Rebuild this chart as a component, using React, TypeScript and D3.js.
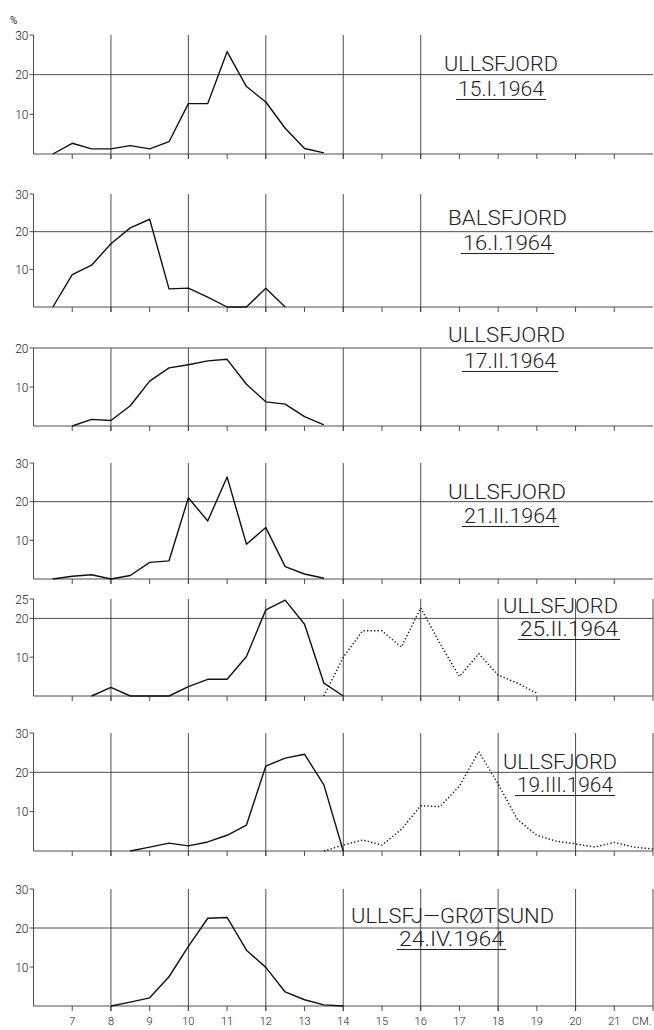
import React from "react";
import * as d3 from "d3";

// ---------- DATA ----------
const p1Len = [6.5, 7, 7.5, 8, 8.5, 9, 9.5, 10, 10.5, 11, 11.5, 12, 12.5, 13, 13.5];
const p1Pct = [0, 2.7, 1.3, 1.3, 2.1, 1.3, 3.1, 12.7, 12.7, 25.8, 17.0, 13.1, 6.5, 1.4, 0.3];

const p2Len = [6.5, 7, 7.5, 8, 8.5, 9, 9.5, 10, 10.5, 11, 11.5, 12, 12.5];
const p2Pct = [0, 8.6, 11.1, 16.8, 21.0, 23.3, 4.8, 5.0, 2.6, 0, 0, 5.0, 0];

const p3Len = [7, 7.5, 8, 8.5, 9, 9.5, 10, 10.5, 11, 11.5, 12, 12.5, 13, 13.5];
const p3Pct = [0, 1.7, 1.4, 5.2, 11.5, 14.9, 15.7, 16.7, 17.1, 10.7, 6.2, 5.6, 2.4, 0.3];

const p4Len = [6.5, 7, 7.5, 8, 8.5, 9, 9.5, 10, 10.5, 11, 11.5, 12, 12.5, 13, 13.5];
const p4Pct = [0, 0.7, 1.1, 0, 0.9, 4.3, 4.7, 21.0, 15.0, 26.4, 9.0, 13.3, 3.2, 1.3, 0.2];

const p5Len = [7.5, 8, 8.5, 9, 9.5, 10, 10.5, 11, 11.5, 12, 12.5, 13, 13.5, 14];
const p5Pct = [0, 2.2, 0, 0, 0, 2.4, 4.3, 4.3, 10.2, 22.2, 24.7, 18.5, 3.3, 0];
const p5bLen = [13.5, 14, 14.5, 15, 15.5, 16, 16.5, 17, 17.5, 18, 18.5, 19];
const p5bPct = [0, 10.0, 16.8, 16.8, 12.6, 22.7, 13.5, 5.0, 10.9, 5.4, 3.3, 0.7];

const p6Len = [8.5, 9, 9.5, 10, 10.5, 11, 11.5, 12, 12.5, 13, 13.5, 14];
const p6Pct = [0, 1.0, 2.0, 1.3, 2.3, 4.0, 6.6, 21.6, 23.6, 24.6, 16.8, 0];
const p6bLen = [13.5, 14, 14.5, 15, 15.5, 16, 16.5, 17, 17.5, 18, 18.5, 19, 19.5, 20, 20.5, 21, 21.5, 22];
const p6bPct = [0, 1.5, 2.8, 1.5, 5.5, 11.5, 11.3, 16.5, 25.3, 17.0, 8.0, 4.0, 2.5, 1.8, 1.0, 2.2, 1.0, 0.5];

const p7Len = [8, 8.5, 9, 9.5, 10, 10.5, 11, 11.5, 12, 12.5, 13, 13.5, 14];
const p7Pct = [0, 1.0, 2.1, 7.5, 15.3, 22.5, 22.7, 14.3, 9.9, 3.6, 1.6, 0.3, 0];

const panelMax = [30, 30, 20, 30, 25, 30, 30];
const panelYTicks = [[10, 20, 30], [10, 20, 30], [10, 20], [10, 20, 30], [10, 20, 25], [10, 20, 30], [10, 20, 30]];
const panelNames = ["ULLSFJORD", "BALSFJORD", "ULLSFJORD", "ULLSFJORD", "ULLSFJORD", "ULLSFJORD", "ULLSFJ\u2014GR\u00d8TSUND"];
const panelDates = ["15.I.1964", "16.I.1964", "17.II.1964", "21.II.1964", "25.II.1964", "19.III.1964", "24.IV.1964"];
const xTickLabels = [7, 8, 9, 10, 11, 12, 13, 14, 15, 16, 17, 18, 19, 20, 21];

const solidSeries = [
  [p1Len, p1Pct], [p2Len, p2Pct], [p3Len, p3Pct], [p4Len, p4Pct],
  [p5Len, p5Pct], [p6Len, p6Pct], [p7Len, p7Pct],
];
const dottedSeries: (number[][] | null)[] = [null, null, null, null, [p5bLen, p5bPct], [p6bLen, p6bPct], null];

// ---------- LAYOUT ----------
const W = 654, H = 1030;
const panelTopPx = [35, 194, 348, 463, 599, 733, 889];
const panelBasePx = [154, 307, 426, 579, 696, 851, 1006];
const wideGrid = [false, false, false, false, true, true, true];
const labelLayout = [
  { nx: 444, ny: 71, nw: 114, dx: 458, dy: 96, dw: 86 },
  { nx: 448, ny: 225, nw: 119, dx: 463, dy: 250, dw: 89 },
  { nx: 448, ny: 342, nw: 117, dx: 464, dy: 368, dw: 92 },
  { nx: 448, ny: 499, nw: 118, dx: 464, dy: 523, dw: 93 },
  { nx: 503, ny: 613, nw: 115, dx: 520, dy: 636, dw: 98 },
  { nx: 503, ny: 769, nw: 114, dx: 517, dy: 792, dw: 96 },
  { nx: 351, ny: 923, nw: 203, dx: 399, dy: 946, dw: 105 },
];

const x = d3.scaleLinear().domain([6, 22]).range([33.5, 653]);
const FONT = "Roboto, 'DejaVu Sans', sans-serif";
const GRID = "#3a3a3a";

function Panel({ i }: { i: number }) {
  const y = d3.scaleLinear().domain([0, panelMax[i]]).range([panelBasePx[i], panelTopPx[i]]);
  const base = y(0);
  const top = y(panelMax[i]);
  const mk = (len: number[], pct: number[]) =>
    d3.line<number>().x((d) => x(d)).y((d, k) => y(pct[k]))(len) || "";
  const gridCm = wideGrid[i] ? [8, 10, 12, 14, 16, 18, 20, 22] : [8, 10, 12, 14, 16];
  const L = labelLayout[i];
  const ss = solidSeries[i];
  const ds = dottedSeries[i];
  return (
    <g>
      <line x1={x(6)} x2={x(6)} y1={top} y2={base} stroke={GRID} strokeWidth={0.9} />
      {panelYTicks[i].map((t) => (
        <g key={t}>
          <line x1={x(6) - 4} x2={x(6)} y1={y(t)} y2={y(t)} stroke={GRID} strokeWidth={0.9} />
          <text x={x(6) - 5} y={y(t) + 4.5} fontSize={12} fontFamily={FONT} fontWeight={300} textAnchor="end" fill="#222">{t}</text>
        </g>
      ))}
      <line x1={x(6)} x2={x(22)} y1={y(20)} y2={y(20)} stroke={GRID} strokeWidth={0.9} />
      <line x1={x(6)} x2={x(22)} y1={base} y2={base} stroke={GRID} strokeWidth={0.9} />
      {gridCm.map((c) => (
        <line key={c} x1={x(c)} x2={x(c)} y1={top} y2={base + 5} stroke={GRID} strokeWidth={0.9} />
      ))}
      {xTickLabels.map((c) => (
        <line key={c} x1={x(c)} x2={x(c)} y1={base} y2={base + 5} stroke={GRID} strokeWidth={0.9} />
      ))}
      <path d={mk(ss[0], ss[1])} fill="none" stroke="#111" strokeWidth={1.4} strokeLinejoin="round" />
      {ds && (
        <path d={mk(ds[0], ds[1])} fill="none" stroke="#111" strokeWidth={1.4} strokeDasharray="1.3,2.2" />
      )}
      <text x={L.nx} y={L.ny} fontSize={20} fontFamily={FONT} fontWeight={300} fill="#222" textLength={L.nw} lengthAdjust="spacingAndGlyphs">{panelNames[i]}</text>
      <text x={L.dx} y={L.dy} fontSize={20} fontFamily={FONT} fontWeight={300} fill="#222" textLength={L.dw} lengthAdjust="spacingAndGlyphs">{panelDates[i]}</text>
      <line x1={L.dx - 2} x2={L.dx + L.dw + 2} y1={L.dy + 3.5} y2={L.dy + 3.5} stroke="#222" strokeWidth={1.2} />
    </g>
  );
}

export default function App() {
  const lastBase = panelBasePx[6];
  return (
    <svg width={W} height={H} style={{ position: "absolute", left: 0, top: 0, background: "#fff" }}>
      <rect width={W} height={H} fill="#fff" />
      <text x={10} y={24} fontSize={10} fontFamily={FONT} fill="#222">%</text>
      {panelMax.map((_, i) => <Panel key={i} i={i} />)}
      {xTickLabels.map((c) => (
        <text key={c} x={x(c)} y={lastBase + 19} fontSize={11} fontFamily={FONT} fontWeight={300} textAnchor="middle" fill="#222">{c}</text>
      ))}
      <text x={632} y={lastBase + 19} fontSize={11} fontFamily={FONT} fontWeight={300} fill="#222">CM.</text>
    </svg>
  );
}
